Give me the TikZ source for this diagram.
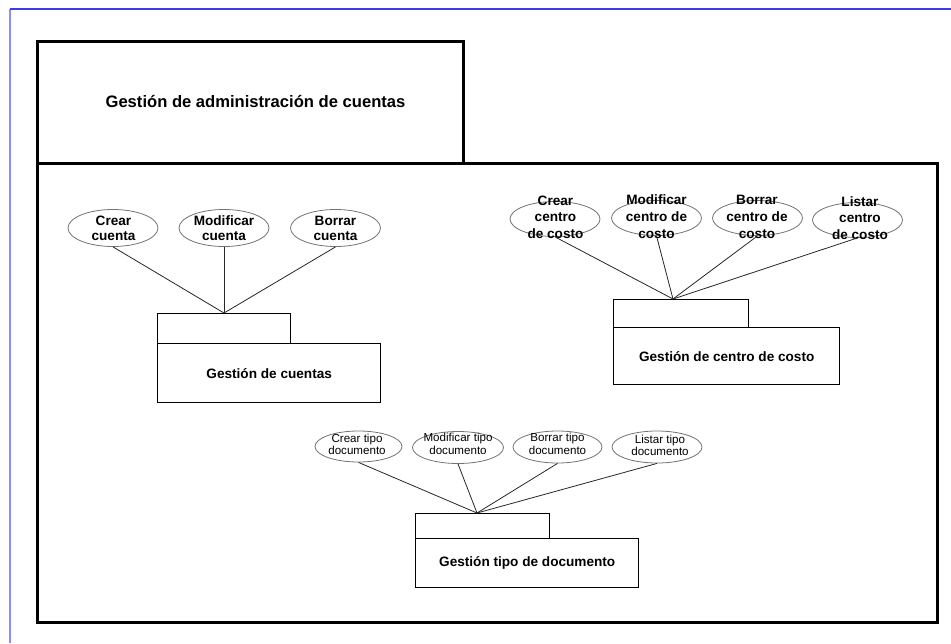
\documentclass[tikz,border=0pt]{standalone}
\usepackage{fontspec}
\setmainfont{Liberation Sans}
\usetikzlibrary{shapes.geometric}
\definecolor{edgeblue}{RGB}{60,60,228}
\definecolor{sideblue}{RGB}{140,140,255}
\begin{document}
\begin{tikzpicture}[x=1pt,y=-1pt,
  outerbox/.style={draw, line width=3pt, inner sep=0pt, anchor=north west},
  pkgtab/.style={draw, line width=1.4pt, inner sep=0pt, anchor=north west},
  pkgbody/.style={draw, line width=1.4pt, inner sep=0pt, anchor=north west,
    font=\fontsize{13.6}{16}\selectfont\bfseries},
  uc/.style={ellipse, draw=black!55, line width=0.8pt, inner sep=0pt},
  ucbig/.style={uc, minimum width=90pt, minimum height=36pt},
  ucsmall/.style={uc, minimum width=90pt, minimum height=32pt},
  lblbig/.style={inner sep=0pt, anchor=south, align=center,
    font=\fontsize{13.6}{15.3}\selectfont\bfseries},
  lblbig3/.style={inner sep=0pt, anchor=south, align=center,
    font=\fontsize{13.6}{16.8}\selectfont\bfseries},
  lblsmall/.style={inner sep=0pt, anchor=south, align=center,
    font=\fontsize{11.6}{12.2}\selectfont},
  link/.style={draw=black!85, line width=0.8pt}
]
\useasboundingbox (0,0) rectangle (951,643);

% page edges
\draw[sideblue, line width=1.6pt] (10,643) -- (10,9);
\draw[edgeblue, line width=1.2pt] (10,9) -- (951,9);

% outer package
\node[outerbox, minimum width=426pt, minimum height=122pt] (maintab) at (36,40) {};
\node[outerbox, minimum width=900pt, minimum height=459pt] (mainbody) at (36,162) {};
\node[font=\fontsize{16.6}{19}\selectfont\bfseries] (title) at (255.5,101)
  {Gestión de administración de cuentas};

% ---- Gestión de cuentas ----
\node[pkgtab, minimum width=133pt, minimum height=30pt] (tab1) at (157,313) {};
\node[pkgbody, minimum width=223pt, minimum height=59pt] (pkg1) at (157,343)
  {Gestión de cuentas};
\coordinate (hub1) at (224,313);
\node[ucbig, minimum height=37pt] (u11) at (113,228) {};
\node[ucbig, minimum height=37pt] (u12) at (224,228) {};
\node[ucbig, minimum height=37pt] (u13) at (335.5,228) {};
\node[lblbig] (t11) at (113.5,241) {Crear\\cuenta};
\node[lblbig] (t12) at (224,241) {Modificar\\cuenta};
\node[lblbig] (t13) at (335.5,241) {Borrar\\cuenta};
\foreach \u in {u11,u12,u13} \draw[link] (\u.south) -- (hub1);

% ---- Gestión de centro de costo ----
\node[pkgtab, minimum width=135pt, minimum height=28pt] (tab2) at (613,299) {};
\node[pkgbody, minimum width=226pt, minimum height=57pt] (pkg2) at (613,327)
  {Gestión de centro de costo};
\coordinate (hub2) at (673,299);
\node[ucbig, minimum height=35pt] (u21) at (555,219) {};
\node[ucbig, minimum height=35pt] (u22) at (656.5,218) {};
\node[ucbig, minimum height=35pt] (u23) at (757.5,218) {};
\node[ucbig, minimum height=35pt] (u24) at (857.5,220) {};
\node[lblbig3] (t21) at (555.5,239) {Crear\\centro\\de costo};
\node[lblbig3] (t22) at (656.5,238.5) {Modificar\\centro de\\costo};
\node[lblbig3] (t23) at (757,238.5) {Borrar\\centro de\\costo};
\node[lblbig3] (t24) at (860,240) {Listar\\centro\\de costo};
\foreach \u in {u21,u22,u23,u24} \draw[link] (\u.south) -- (hub2);

% ---- Gestión tipo de documento ----
\node[pkgtab, minimum width=134pt, minimum height=25pt] (tab3) at (415,513) {};
\node[pkgbody, minimum width=223pt, minimum height=49pt] (pkg3) at (415,538)
  {Gestión tipo de documento};
\coordinate (hub3) at (477,513);
\node[ucsmall, minimum width=87pt, minimum height=31pt] (u31) at (358.5,446.5) {};
\node[ucsmall, minimum width=91pt] (u32) at (458,447.5) {};
\node[ucsmall, minimum width=89pt] (u33) at (557.5,447) {};
\node[ucsmall] (u34) at (657,447) {};
\node[lblsmall] (t31) at (357,455) {Crear tipo\\documento};
\node[lblsmall] (t32) at (458,454.5) {Modificar tipo\\documento};
\node[lblsmall] (t33) at (557.5,454.5) {Borrar tipo\\documento};
\node[lblsmall] (t34) at (660,456) {Listar tipo\\documento};
\foreach \u in {u31,u32,u33,u34} \draw[link] (\u.south) -- (hub3);
\end{tikzpicture}
\end{document}
